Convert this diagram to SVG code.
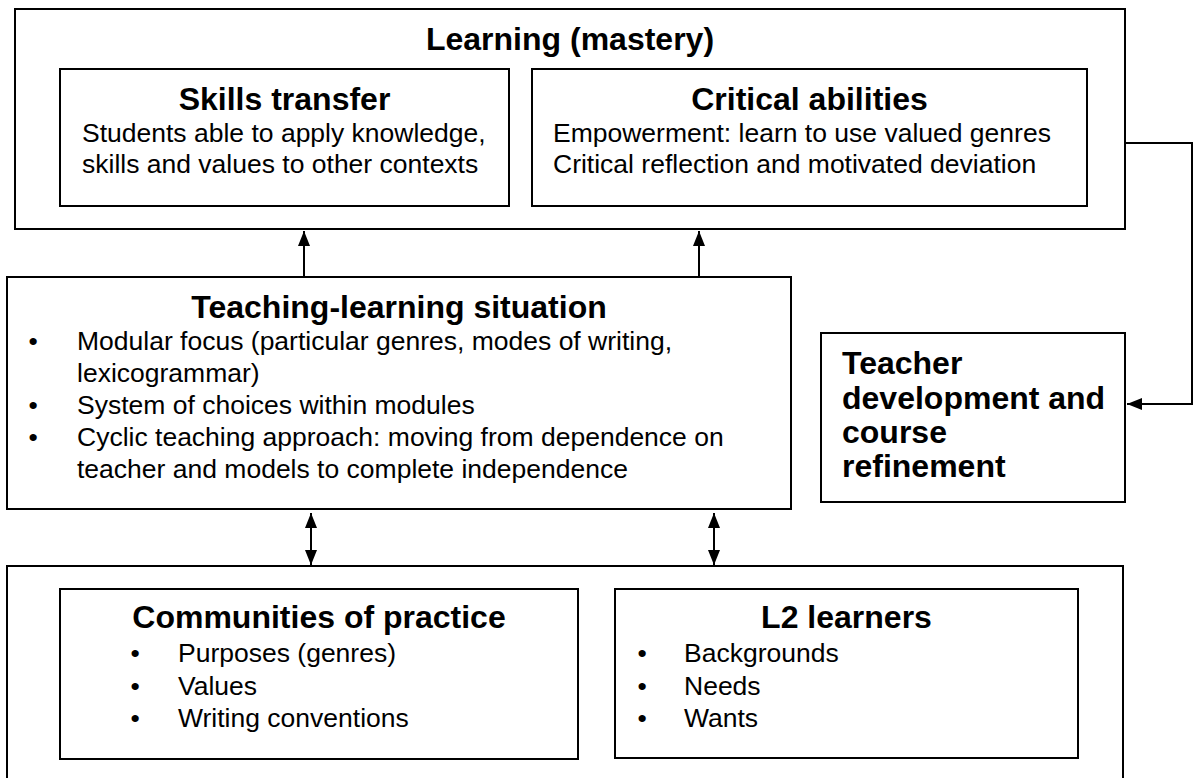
<svg xmlns="http://www.w3.org/2000/svg" width="1194" height="778" viewBox="0 0 1194 778">
<style>
.box{fill:#fff;stroke:#000;stroke-width:2}
.t{font-family:"Liberation Sans",Arial,sans-serif;font-size:32px;font-weight:bold;fill:#000}
.b{font-family:"Liberation Sans",Arial,sans-serif;font-size:26.5px;fill:#000}
.c{stroke:#000;stroke-width:2;fill:none}
</style>
<defs>
<marker id="ah" viewBox="0 0 15 12" refX="15" refY="6" markerWidth="15" markerHeight="12" markerUnits="userSpaceOnUse" orient="auto-start-reverse">
<path d="M0,0 L15,6 L0,12 z" fill="#000"/>
</marker>
</defs>
<rect width="1194" height="778" fill="#fff"/>

<g id="learning">
<rect class="box" x="15" y="9" width="1110" height="220"/>
<text class="t" x="570" y="50" text-anchor="middle">Learning (mastery)</text>
</g>
<g id="skills">
<rect class="box" x="60" y="69" width="449" height="137"/>
<text class="t" x="284.5" y="110" text-anchor="middle">Skills transfer</text>
<text class="b" x="82" y="142">Students able to apply knowledge,</text>
<text class="b" x="82" y="173">skills and values to other contexts</text>
</g>
<g id="critical">
<rect class="box" x="532" y="69" width="555" height="137"/>
<text class="t" x="809.5" y="110" text-anchor="middle">Critical abilities</text>
<text class="b" x="553" y="142">Empowerment: learn to use valued genres</text>
<text class="b" x="553" y="173">Critical reflection and motivated deviation</text>
</g>
<g id="teaching">
<rect class="box" x="7" y="277" width="784" height="232"/>
<text class="t" x="399" y="318" text-anchor="middle">Teaching-learning situation</text>
<text class="b" x="28.5" y="350">•</text>
<text class="b" x="77" y="350">Modular focus (particular genres, modes of writing,</text>
<text class="b" x="77" y="382">lexicogrammar)</text>
<text class="b" x="28.5" y="414">•</text>
<text class="b" x="77" y="414">System of choices within modules</text>
<text class="b" x="28.5" y="446">•</text>
<text class="b" x="77" y="446">Cyclic teaching approach: moving from dependence on</text>
<text class="b" x="77" y="478">teacher and models to complete independence</text>
</g>
<g id="teacher-dev">
<rect class="box" x="821" y="333" width="304" height="169"/>
<text class="t" x="842" y="374">Teacher</text>
<text class="t" x="842" y="409">development and</text>
<text class="t" x="842" y="443">course</text>
<text class="t" x="842" y="477">refinement</text>
</g>
<g id="context">
<rect class="box" x="7" y="566" width="1116" height="240"/>
</g>
<g id="communities">
<rect class="box" x="60" y="589" width="518" height="170"/>
<text class="t" x="319" y="628" text-anchor="middle">Communities of practice</text>
<text class="b" x="130.4" y="662">•</text>
<text class="b" x="178" y="662">Purposes (genres)</text>
<text class="b" x="130.4" y="695">•</text>
<text class="b" x="178" y="695">Values</text>
<text class="b" x="130.4" y="727">•</text>
<text class="b" x="178" y="727">Writing conventions</text>
</g>
<g id="l2">
<rect class="box" x="615" y="589" width="463" height="169"/>
<text class="t" x="846.5" y="628" text-anchor="middle">L2 learners</text>
<text class="b" x="637.4" y="662">•</text>
<text class="b" x="684" y="662">Backgrounds</text>
<text class="b" x="637.4" y="695">•</text>
<text class="b" x="684" y="695">Needs</text>
<text class="b" x="637.4" y="727">•</text>
<text class="b" x="684" y="727">Wants</text>
</g>
<g id="connectors">
<line class="c" x1="304" y1="277" x2="304" y2="231" marker-end="url(#ah)"/>
<line class="c" x1="699" y1="277" x2="699" y2="231" marker-end="url(#ah)"/>
<line class="c" x1="311" y1="513" x2="311" y2="565" marker-start="url(#ah)" marker-end="url(#ah)"/>
<line class="c" x1="714" y1="513" x2="714" y2="565" marker-start="url(#ah)" marker-end="url(#ah)"/>
<path class="c" d="M1125,143 H1192 V404 H1127" marker-end="url(#ah)"/>
</g>
</svg>
